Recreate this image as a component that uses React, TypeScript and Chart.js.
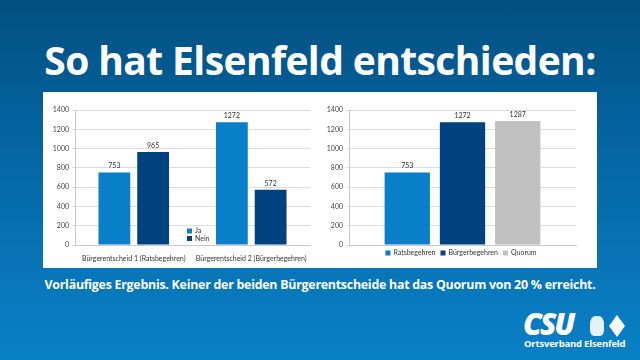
import React, { useEffect, useRef } from "react";
import { Chart, registerables } from "chart.js";

Chart.register(...registerables);

const leftCategories = ["Bürgerentscheid 1 (Ratsbegehren)", "Bürgerentscheid 2 (Bürgerbegehren)"];
const jaValues = [753, 1272];
const neinValues = [965, 572];
const leftSeriesNames = ["Ja", "Nein"];

const rightSeriesNames = ["Ratsbegehren", "Bürgerbegehren", "Quorum"];
const rightValues = [753, 1272, 1287];

const yMax = 1400;
const yStep = 200;

const LIGHT = "#0a7fc9";
const DARK = "#00417f";
const GRAY = "#c0c0c0";
const FONT = "Lato, 'Open Sans', sans-serif";

const valueLabels = {
  id: "valueLabels",
  afterDatasetsDraw(chart: any) {
    const ctx = chart.ctx;
    ctx.save();
    ctx.font = `7px ${FONT}`;
    ctx.fillStyle = "#333";
    ctx.textAlign = "center";
    ctx.textBaseline = "bottom";
    chart.data.datasets.forEach((ds: any, i: number) => {
      const meta = chart.getDatasetMeta(i);
      meta.data.forEach((el: any, j: number) => {
        ctx.fillText(String(ds.data[j]), el.x, el.y - 3);
      });
    });
    ctx.restore();
  },
};

const customLegend = {
  id: "customLegend",
  afterDraw(chart: any, _args: any, opts: any) {
    const ctx = chart.ctx;
    ctx.save();
    ctx.font = `7px ${FONT}`;
    ctx.textBaseline = "middle";
    ctx.textAlign = "left";
    const items = chart.data.datasets.map((d: any) => ({ text: d.label, color: d.backgroundColor }));
    const box = 5;
    if (opts.vertical) {
      items.forEach((it: any, i: number) => {
        const y = opts.y + i * opts.rowGap;
        ctx.fillStyle = it.color;
        ctx.fillRect(opts.x, y - box / 2, box, box);
        ctx.fillStyle = "#333";
        ctx.fillText(it.text, opts.x + box + 3, y);
      });
    } else {
      const widths = items.map((it: any) => box + 3 + ctx.measureText(it.text).width);
      const gap = 5;
      const total = widths.reduce((a: number, b: number) => a + b, 0) + gap * (items.length - 1);
      let x = opts.cx - total / 2;
      items.forEach((it: any, i: number) => {
        ctx.fillStyle = it.color;
        ctx.fillRect(x, opts.y - box / 2, box, box);
        ctx.fillStyle = "#333";
        ctx.fillText(it.text, x + box + 3, opts.y);
        x += widths[i] + gap;
      });
    }
    ctx.restore();
  },
};

function yScale(width: number) {
  return {
    min: 0,
    max: yMax,
    ticks: {
      stepSize: yStep,
      color: "#444",
      font: { family: FONT, size: 7 },
      padding: 3,
      callback: (v: any) => String(v),
    },
    grid: { color: "#dcdcdc", lineWidth: 1, tickLength: 3, drawTicks: true },
    border: { color: "#c8c8c8" },
    afterFit(s: any) {
      s.width = width;
    },
  };
}

function LeftChart() {
  const ref = useRef<HTMLCanvasElement>(null);
  useEffect(() => {
    const chart = new Chart(ref.current!, {
      type: "bar",
      data: {
        labels: leftCategories,
        datasets: [
          { label: leftSeriesNames[0], data: jaValues, backgroundColor: LIGHT, barPercentage: 0.82, categoryPercentage: 0.66 },
          { label: leftSeriesNames[1], data: neinValues, backgroundColor: DARK, barPercentage: 0.82, categoryPercentage: 0.66 },
        ],
      },
      options: {
        animation: false,
        responsive: false,
        devicePixelRatio: 1,
        layout: { padding: { left: 0, right: 8, top: 18, bottom: 0 } },
        plugins: {
          legend: { display: false },
          tooltip: { enabled: false },
          customLegend: { vertical: true, x: 144, y: 139, rowGap: 7.5 },
        } as any,
        scales: {
          x: {
            ticks: { color: "#333", font: { family: FONT, size: 7 }, padding: 2 },
            grid: { display: false },
            border: { color: "#c8c8c8" },
            afterFit(s: any) {
              s.height = 23;
            },
          },
          y: yScale(32) as any,
        },
      },
      plugins: [valueLabels, customLegend],
    });
    return () => chart.destroy();
  }, []);
  return <canvas ref={ref} width={275} height={176} style={{ position: "absolute", left: 0, top: 0 }} />;
}

function RightChart() {
  const ref = useRef<HTMLCanvasElement>(null);
  useEffect(() => {
    const chart = new Chart(ref.current!, {
      type: "bar",
      data: {
        labels: [""],
        datasets: rightSeriesNames.map((n, i) => ({
          label: n,
          data: [rightValues[i]],
          backgroundColor: [LIGHT, DARK, GRAY][i],
          barPercentage: 0.82,
          categoryPercentage: 0.73,
        })),
      },
      options: {
        animation: false,
        responsive: false,
        devicePixelRatio: 1,
        layout: { padding: { left: 0, right: 21, top: 18, bottom: 0 } },
        plugins: {
          legend: { display: false },
          tooltip: { enabled: false },
          customLegend: { vertical: false, cx: 141, y: 161 },
        } as any,
        scales: {
          x: {
            ticks: { display: false },
            grid: { display: false },
            border: { color: "#c8c8c8" },
            afterFit(s: any) {
              s.height = 23;
            },
          },
          y: yScale(29) as any,
        },
      },
      plugins: [valueLabels, customLegend],
    });
    return () => chart.destroy();
  }, []);
  return <canvas ref={ref} width={277} height={176} style={{ position: "absolute", left: 0, top: 0 }} />;
}

export default function App() {
  useEffect(() => {
    document.body.style.margin = "0";
  }, []);
  return (
    <div
      style={{
        position: "fixed",
        left: 0,
        top: 0,
        width: 640,
        height: 360,
        overflow: "hidden",
        background: "linear-gradient(to bottom, #024f80 0%, #0568a6 45%, #0a80c7 100%)",
        fontFamily: "'Open Sans', sans-serif",
      }}
    >
      <div
        style={{
          position: "absolute",
          left: 0,
          top: 35,
          width: 640,
          textAlign: "center",
          color: "#fff",
          fontWeight: 700,
          fontSize: 39,
          lineHeight: "50px",
          letterSpacing: -0.6,
          fontFamily: "'Open Sans', sans-serif",
          fontStretch: "normal",
          whiteSpace: "nowrap",
        }}
      >
        So hat Elsenfeld entschieden:
      </div>
      <div style={{ position: "absolute", left: 43, top: 92, width: 554, height: 176, background: "#fff" }}>
        <div style={{ position: "absolute", left: 0, top: 0, width: 275, height: 176 }}>
          <LeftChart />
        </div>
        <div style={{ position: "absolute", left: 277, top: 0, width: 277, height: 176 }}>
          <RightChart />
        </div>
      </div>
      <div
        style={{
          position: "absolute",
          left: 0,
          top: 276,
          width: 640,
          textAlign: "center",
          color: "#fff",
          fontWeight: 700,
          fontSize: 12.4,
          lineHeight: "18px",
          fontFamily: "'Open Sans', sans-serif",
          letterSpacing: -0.25,
          whiteSpace: "nowrap",
        }}
      >
        Vorläufiges Ergebnis. Keiner der beiden Bürgerentscheide hat das Quorum von 20 % erreicht.
      </div>
      <div
        style={{
          position: "absolute",
          left: 523,
          top: 308,
          color: "#fff",
          fontWeight: 800,
          fontStyle: "italic",
          fontSize: 30,
          lineHeight: "32px",
          letterSpacing: -2,
          fontFamily: "'Open Sans', sans-serif",
        }}
      >
        CSU
      </div>
      <div style={{ position: "absolute", left: 590, top: 316, width: 14, height: 20, background: "#fff", borderRadius: "40% 40% 30% 30%", opacity: 0.9 }} />
      <div
        style={{
          position: "absolute",
          left: 609,
          top: 315,
          width: 16,
          height: 22,
          background: "#fff",
          clipPath: "polygon(50% 0, 100% 50%, 50% 100%, 0 50%)",
        }}
      />
      <div
        style={{
          position: "absolute",
          left: 524,
          top: 338,
          color: "#fff",
          fontWeight: 700,
          fontSize: 9.5,
          lineHeight: "12px",
          fontFamily: "'Open Sans', sans-serif",
          letterSpacing: -0.2,
        }}
      >
        Ortsverband Elsenfeld
      </div>
    </div>
  );
}
